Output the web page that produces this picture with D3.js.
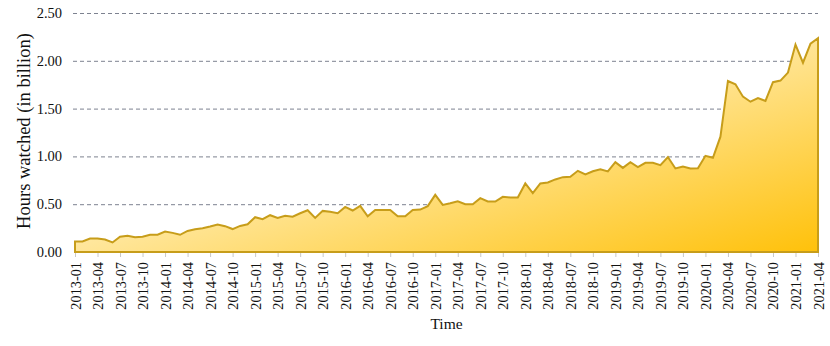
<!DOCTYPE html>
<html><head><meta charset="utf-8">
<script src="https://cdn.jsdelivr.net/npm/d3@7"></script>
<style>body{margin:0;background:#fff}svg{display:block}</style>
</head><body><svg id="c" width="830" height="346"></svg>
<script>
const startYear = 2013, startMonth = 1, monthCount = 100;
const hours = [
0.11,0.11,0.14,0.14,0.13,0.10,0.16,0.17,0.155,0.16,0.18,0.18,
0.214,0.20,0.18,0.22,0.238,0.248,0.266,0.287,0.27,0.24,0.273,0.29,
0.364,0.343,0.385,0.357,0.378,0.37,0.405,0.437,0.357,0.43,0.42,0.405,
0.472,0.434,0.482,0.374,0.44,0.44,0.44,0.374,0.374,0.44,0.444,0.48,
0.598,0.493,0.51,0.531,0.50,0.50,0.563,0.528,0.527,0.577,0.57,0.57,
0.717,0.615,0.717,0.727,0.759,0.783,0.787,0.849,0.811,0.845,0.866,0.843,
0.94,0.88,0.94,0.888,0.933,0.933,0.909,0.993,0.874,0.895,0.874,0.877,
1.006,0.985,1.206,1.789,1.754,1.625,1.572,1.611,1.58,1.776,1.793,1.877,
2.17,1.98,2.18,2.237];
const months = [];
for (let i = 0; i < monthCount; i++) {
  const m = startMonth - 1 + i;
  const y = startYear + Math.floor(m / 12);
  months.push(y + "-" + String(m % 12 + 1).padStart(2, "0"));
}
const yTicks = [0, 0.5, 1.0, 1.5, 2.0, 2.5];
const xLabel = "Time", yLabel = "Hours watched (in billion)";

const FONT = "'Liberation Serif', 'Times New Roman', Times, 'DejaVu Serif', serif";
const svg = d3.select("#c").attr("font-family", FONT);
const L = 75, R = 818, T = 13, B = 252;
const x = d3.scalePoint().domain(months).range([L, R]);
const y = d3.scaleLinear().domain([0, 2.5]).range([B, T]);

const defs = svg.append("defs");
const g = defs.append("linearGradient").attr("id","fillg")
  .attr("x1","0").attr("y1","0").attr("x2","1").attr("y2","1");
g.append("stop").attr("offset","0%").attr("stop-color","#fffdf6");
g.append("stop").attr("offset","45%").attr("stop-color","#ffe9a6");
g.append("stop").attr("offset","100%").attr("stop-color","#ffc10a");

// grid
svg.append("g").selectAll("line").data(yTicks.filter(d => d > 0)).join("line")
  .attr("x1", L - 2).attr("x2", R).attr("y1", d => y(d) + 0.5).attr("y2", d => y(d) + 0.5)
  .attr("stroke", "#7d8290").attr("stroke-width", 1).attr("stroke-dasharray", "4,3");

// area
const data = months.map((m, i) => ({m, v: hours[i]}));
const area = d3.area().x(d => x(d.m)).y0(y(0)).y1(d => y(d.v));
svg.append("path").datum(data).attr("d", area)
  .attr("fill", "url(#fillg)").attr("stroke", "#c79d1a").attr("stroke-width", 2)
  .attr("stroke-linejoin", "miter");

// x axis
const tickMonths = months.filter((d, i) => i % 3 === 0);
const xa = svg.append("g").attr("transform", `translate(0,${B + 1})`)
  .call(d3.axisBottom(x).tickValues(tickMonths).tickSize(4).tickSizeOuter(0));
xa.attr("font-family", FONT).attr("font-size", 14.3);
xa.select(".domain").remove();
xa.selectAll(".tick line").attr("stroke", "#c8c8c8");
xa.selectAll(".tick text").attr("transform", "rotate(-90)")
  .attr("text-anchor", "end").attr("x", -9).attr("y", 0).attr("dy", "0.35em")
  .attr("fill", "#111");

// y axis labels
svg.append("g").selectAll("text").data(yTicks).join("text")
  .attr("x", 62).attr("y", d => y(d)).attr("dy", "0.35em")
  .attr("text-anchor", "end").attr("font-size", 14.5).attr("fill", "#111")
  .text(d => d.toFixed(2));

svg.append("text").attr("x", (L + R) / 2).attr("y", 329).attr("text-anchor", "middle")
  .attr("font-size", 15.5).attr("fill", "#111").text(xLabel);
svg.append("text").attr("transform", `translate(29.5,131) rotate(-90)`)
  .attr("text-anchor", "middle").attr("font-size", 18.5).attr("fill", "#111").text(yLabel);
</script></body></html>
